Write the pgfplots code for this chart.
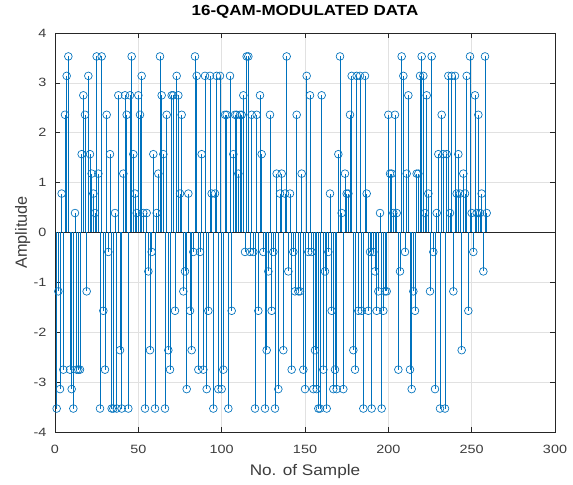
\documentclass[border=0pt]{standalone}
\usepackage{fontspec}
\setmainfont{Liberation Sans}
\usepackage{pgfplots}
\usepackage{pgfplotstable}
\pgfplotsset{compat=1.18}
\definecolor{mblue}{rgb}{0,0.447,0.741}
\definecolor{gridc}{RGB}{225,225,225}
\definecolor{axc}{RGB}{38,38,38}
\definecolor{txc}{RGB}{60,60,60}
\pgfplotstableread{
n v
1 -3.53
2 -1.18
3 -3.14
4 0.78
5 -2.75
6 2.36
7 3.14
8 3.53
9 -2.75
10 -3.14
11 -3.53
12 0.39
13 -2.75
14 -2.75
15 -2.75
16 1.57
17 2.75
18 2.36
19 -1.18
20 3.14
21 1.57
22 1.18
23 0.78
24 0.39
25 3.53
26 1.18
27 -3.53
28 3.53
29 -1.57
30 -2.75
31 2.36
32 -0.39
33 1.57
34 -3.53
35 -3.53
36 0.39
37 -3.53
38 2.75
39 -2.36
40 -3.53
41 1.18
42 2.75
43 2.36
44 -3.53
45 2.75
46 3.53
47 1.57
48 0.78
49 0.39
50 2.75
51 2.36
52 3.14
53 0.39
54 -3.53
55 0.39
56 -0.78
57 -2.36
58 -0.39
59 1.57
60 -3.53
61 0.39
62 1.18
63 3.53
64 2.75
65 1.57
66 -3.53
67 2.36
68 -2.36
69 -2.75
70 2.75
71 2.75
72 -1.57
73 3.14
74 2.75
75 0.78
76 2.36
77 -1.18
78 -0.78
79 -3.14
80 0.78
81 -1.57
82 -2.36
83 -0.39
84 3.53
85 3.14
86 -2.75
87 -0.39
88 1.57
89 -2.75
90 3.14
91 -3.14
92 -1.57
93 3.14
94 0.78
95 -3.53
96 0.78
97 3.14
98 -3.14
99 3.14
100 -3.14
101 -2.75
102 2.36
103 2.36
104 -3.53
105 3.14
106 -1.57
107 1.57
108 2.36
109 2.36
110 1.18
111 2.36
112 2.36
113 2.75
114 -0.39
115 3.53
116 3.53
117 -0.39
118 2.36
119 -0.39
120 -3.53
121 2.36
122 -1.57
123 2.75
124 1.57
125 -0.39
126 -3.53
127 -2.36
128 -0.78
129 2.36
130 -1.57
131 -0.39
132 -3.53
133 1.18
134 -3.14
135 0.78
136 1.18
137 -2.36
138 0.78
139 3.53
140 -0.78
141 0.78
142 -2.75
143 -0.39
144 -1.18
145 2.36
146 -1.18
147 -1.18
148 1.18
149 -2.75
150 -3.14
151 3.14
152 -0.39
153 2.75
154 -0.39
155 -3.14
156 -2.36
157 -3.14
158 -3.53
159 -3.53
160 2.75
161 -2.75
162 -0.78
163 -3.53
164 -0.39
165 0.78
166 -1.57
167 -3.14
168 -2.75
169 -3.14
170 1.57
171 3.53
172 0.39
173 -3.14
174 1.18
175 0.78
176 0.78
177 2.36
178 3.14
179 -2.36
180 -2.75
181 3.14
182 -1.57
183 3.14
184 -1.57
185 -3.53
186 3.14
187 0.78
188 -1.57
189 -0.39
190 -3.53
191 -0.39
192 -0.78
193 -1.57
194 -1.18
195 0.39
196 -3.53
197 -1.57
198 -1.18
199 -1.18
200 2.36
201 1.18
202 1.18
203 0.39
204 2.36
205 0.39
206 -2.75
207 -0.78
208 3.53
209 3.14
210 -0.39
211 1.18
212 2.75
213 -2.75
214 -3.14
215 -1.18
216 -1.57
217 1.18
218 1.18
219 3.14
220 3.53
221 3.14
222 0.39
223 2.75
224 0.78
225 -1.18
226 3.53
227 -0.39
228 -3.14
229 0.39
230 1.57
231 -3.53
232 2.36
233 1.57
234 -3.53
235 1.57
236 3.14
237 0.39
238 3.14
239 -1.18
240 3.14
241 0.78
242 1.57
243 0.78
244 -2.36
245 1.18
246 0.78
247 3.14
248 -1.57
249 3.53
250 0.39
251 -0.39
252 2.75
253 0.39
254 2.36
255 0.39
256 0.78
257 -0.78
258 3.53
259 0.39
}\qamdata
\begin{document}
\begin{tikzpicture}
\begin{axis}[
  scale only axis, width=375pt, height=299.25pt,
  xmin=0, xmax=300, ymin=-4, ymax=4,
  xtick={0,50,100,150,200,250,300},
  ytick={-4,-3,-2,-1,0,1,2,3,4},
  grid=major, major grid style={gridc, line width=0.5pt},
  tick align=inside, major tick length=3.75pt,
  axis line style={axc, line width=0.5pt},
  tick style={axc, line width=0.5pt},
  /pgf/number format/assume math mode=true,
  xticklabel={\scalebox{1.2}[1]{\pgfmathprintnumber{\tick}}},
  yticklabel={\scalebox{1.2}[1]{\pgfmathprintnumber{\tick}}},
  ticklabel style={font=\fontsize{9}{11}\selectfont, text=txc},
  xticklabel style={anchor=base, inner sep=0pt, yshift=-16.5pt},
  yticklabel style={anchor=east, inner sep=0pt, xshift=-6.2pt},
  title={\scalebox{1.16}[1]{\textbf{16-QAM-MODULATED DATA}}},
  title style={font=\fontsize{11}{13}\selectfont, at={(axis description cs:0.5,1)}, anchor=base, inner sep=0pt, yshift=7.3pt},
  xlabel={\scalebox{1.12}[1]{No. of Sample}},
  xlabel style={font=\fontsize{11.5}{13}\selectfont, text=txc, at={(axis description cs:0.5,0)}, anchor=base, inner sep=0pt, yshift=-33pt},
  ylabel={Amplitude},
  ylabel style={font=\fontsize{12.2}{14}\selectfont, text=txc, at={(axis description cs:-0.056,0.5)}, anchor=base, inner sep=0pt},
  clip=false,
]
\addplot[axc, line width=0.5pt, forget plot] coordinates {(0,0) (300,0)};
\addplot[ycomb, mblue, line width=0.5pt, mark=o, mark size=2.9pt, mark options={mblue, line width=0.5pt}] table[x=n, y=v] {\qamdata};
\coordinate (ll) at (rel axis cs:0,0);
\coordinate (ur) at (rel axis cs:1,1);
\end{axis}
\pgfresetboundingbox
\path[use as bounding box] ([shift={(-41.25pt,-39.75pt)}]ll) rectangle ([shift={(13.5pt,24.75pt)}]ur);
\end{tikzpicture}
\end{document}
